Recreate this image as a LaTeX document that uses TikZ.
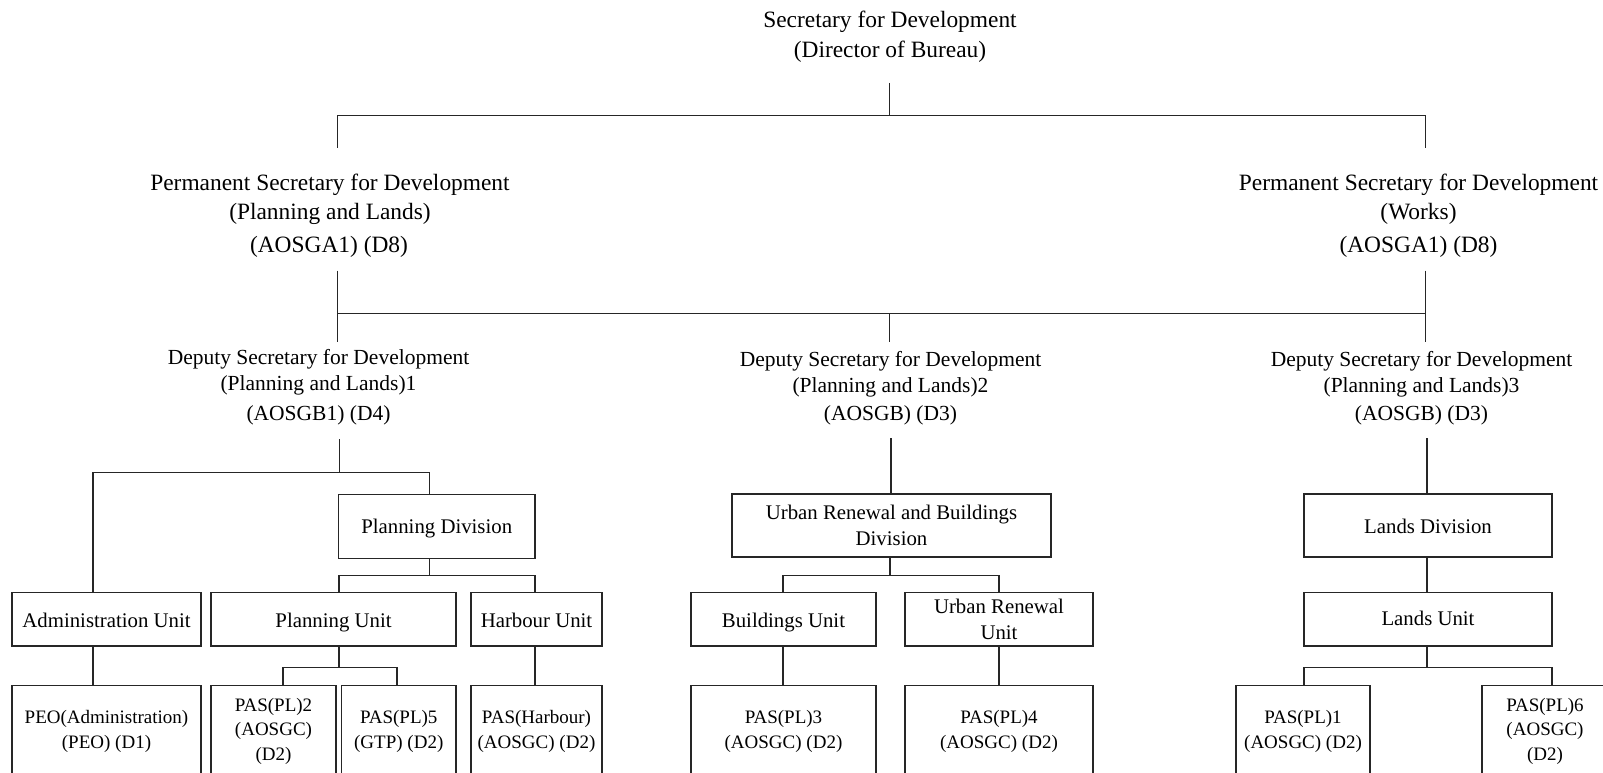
\documentclass[tikz,border=0pt]{standalone}
\usepackage{fontspec}
\setmainfont{Liberation Serif}
\begin{document}
\begin{tikzpicture}[x=1pt,y=-1pt,
  conn/.style={line width=1.2pt, black!85},
  box/.style={draw=black!85, line width=1.2pt, inner sep=0pt, align=center, font=\fontsize{20.8}{25.6}\selectfont},
  one/.style={text height=15.5pt, text depth=0pt},
  lowbox/.style={draw=black!85, line width=1.2pt, inner sep=0pt, align=center, font=\fontsize{19}{24.5}\selectfont},
  ttop/.style={inner sep=0pt, anchor=base, font=\fontsize{23.4}{28}\selectfont},
  tdep/.style={inner sep=0pt, anchor=base, font=\fontsize{21.5}{26}\selectfont}]
\useasboundingbox (0,0) rectangle (1603,773);
\fill[white] (0,0) rectangle (1603,773);
\clip (0,0) rectangle (1603,773);

% ---- top texts
\node[ttop] (sec1) at (890,28) {Secretary for Development};
\node[ttop] (sec2) at (890,57.2) {(Director of Bureau)};

\node[ttop] (psl1) at (330,190.7) {Permanent Secretary for Development};
\node[ttop] (psl2) at (330,219) {(Planning and Lands)};
\node[ttop] (psl3) at (329,252.3) {(AOSGA1) (D8)};

\node[ttop] (psr1) at (1418.5,190.7) {Permanent Secretary for Development};
\node[ttop] (psr2) at (1418.5,219) {(Works)};
\node[ttop] (psr3) at (1418.5,252.3) {(AOSGA1) (D8)};

\node[tdep] (ds11) at (318.5,364) {Deputy Secretary for Development};
\node[tdep] (ds12) at (318.5,390) {(Planning and Lands)1};
\node[tdep] (ds13) at (318.5,420) {(AOSGB1) (D4)};

\node[tdep] (ds21) at (890.5,366) {Deputy Secretary for Development};
\node[tdep] (ds22) at (890.5,392) {(Planning and Lands)2};
\node[tdep] (ds23) at (890.5,420.5) {(AOSGB) (D3)};

\node[tdep] (ds31) at (1421.5,366) {Deputy Secretary for Development};
\node[tdep] (ds32) at (1421.5,392) {(Planning and Lands)3};
\node[tdep] (ds33) at (1421.5,420.5) {(AOSGB) (D3)};

% ---- division boxes
\node[box, one, minimum width=196.5pt, minimum height=64pt] (pd) at (436.75,526.15) {Planning Division};
\node[box, minimum width=319pt, minimum height=63pt] (urb) at (891.5,525.5) {Urban Renewal and Buildings\\Division};
\node[box, one, minimum width=248pt, minimum height=63pt] (ld) at (1428,525.5) {Lands Division};

% ---- unit boxes
\node[box, one, minimum width=189pt, minimum height=53.3pt] (adm) at (106.5,619.35) {Administration Unit};
\node[box, one, minimum width=245pt, minimum height=53.3pt] (pu) at (333.5,619.35) {Planning Unit};
\node[box, one, minimum width=131pt, minimum height=53.3pt] (hu) at (536.5,619.35) {Harbour Unit};
\node[box, one, minimum width=185pt, minimum height=53.3pt] (bu) at (783.5,619.35) {Buildings Unit};
\node[box, minimum width=188pt, minimum height=53.3pt] (uru) at (999,619.35) {Urban Renewal\\Unit};
\node[box, text height=12pt, text depth=0pt, minimum width=248pt, minimum height=53.3pt] (lu) at (1428,619.35) {Lands Unit};

% ---- bottom boxes
\node[lowbox, minimum width=189pt, minimum height=91.3pt] (peo) at (106.5,731.35) {PEO(Administration)\\(PEO) (D1)};
\node[lowbox, minimum width=125pt, minimum height=91.3pt] (pl2) at (273.5,731.35) {PAS(PL)2\\(AOSGC)\\(D2)};
\node[lowbox, minimum width=114.5pt, minimum height=91.3pt] (pl5) at (398.75,731.35) {PAS(PL)5\\(GTP) (D2)};
\node[lowbox, minimum width=131pt, minimum height=91.3pt] (ph) at (536.5,731.35) {PAS(Harbour)\\(AOSGC) (D2)};
\node[lowbox, minimum width=185pt, minimum height=91.3pt] (pl3) at (783.5,731.35) {PAS(PL)3\\(AOSGC) (D2)};
\node[lowbox, minimum width=188pt, minimum height=91.3pt] (pl4) at (999,731.35) {PAS(PL)4\\(AOSGC) (D2)};
\node[lowbox, minimum width=134pt, minimum height=91.3pt] (pl1) at (1303,731.35) {PAS(PL)1\\(AOSGC) (D2)};
\node[lowbox, minimum width=126pt, minimum height=91.3pt] (pl6) at (1545,731.35) {PAS(PL)6\\(AOSGC)\\(D2)};

% ---- connector coordinates
\coordinate (c0) at (889.7,83);
\coordinate (c1) at (889.7,115.7);
\coordinate (cL) at (337.3,147.7);
\coordinate (cR) at (1425.3,147.7);
\coordinate (pL) at (337.3,270.7);
\coordinate (pR) at (1425.3,270.7);
\coordinate (m) at (889.7,313.3);
\coordinate (dL) at (337.3,341.7);
\coordinate (dR) at (1425.3,341.7);
\coordinate (dM) at (889.7,341.7);
\coordinate (s1) at (339.3,439.3);
\coordinate (s1j) at (339.3,472.7);
\coordinate (xa) at (93,0);
\coordinate (xpd) at (429.5,0);
\coordinate (pdj) at (429.5,575.7);
\coordinate (xpu) at (339,0);
\coordinate (xhu) at (535,0);
\coordinate (puj) at (339,667.7);
\coordinate (x2) at (283,0);
\coordinate (x5) at (397,0);
\coordinate (s2) at (891,438);
\coordinate (xur) at (890,0);
\coordinate (urbj) at (890,575.3);
\coordinate (xbu) at (783,0);
\coordinate (xuru) at (999,0);
\coordinate (s3) at (1427,438);
\coordinate (luj) at (1427,667.5);
\coordinate (x1) at (1304,0);
\coordinate (x6) at (1552,0);

% ---- connectors
\draw[conn] (c0) -- (c1);
\draw[conn] (cL) |- (c1) -| (cR);
\draw[conn] (pL) -- (dL);
\draw[conn] (pR) -- (dR);
\draw[conn] (m) -- (dM);
\draw[conn] (pL |- m) -- (pR |- m);

\draw[conn] (s1) -- (s1j);
\draw[conn] (adm.north -| xa) |- (s1j) -| (pd.north -| xpd);
\draw[conn] (pd.south -| xpd) -- (pdj);
\draw[conn] (pu.north -| xpu) |- (pdj) -| (hu.north -| xhu);
\draw[conn] (adm.south -| xa) -- (peo.north -| xa);
\draw[conn] (pu.south -| xpu) -- (puj);
\draw[conn] (pl2.north -| x2) |- (puj) -| (pl5.north -| x5);
\draw[conn] (hu.south -| xhu) -- (ph.north -| xhu);

\draw[conn] (s2) -- (urb.north -| s2);
\draw[conn] (urb.south -| xur) -- (urbj);
\draw[conn] (bu.north -| xbu) |- (urbj) -| (uru.north -| xuru);
\draw[conn] (bu.south -| xbu) -- (pl3.north -| xbu);
\draw[conn] (uru.south -| xuru) -- (pl4.north -| xuru);

\draw[conn] (s3) -- (ld.north -| s3);
\draw[conn] (ld.south -| s3) -- (lu.north -| s3);
\draw[conn] (lu.south -| s3) -- (luj);
\draw[conn] (pl1.north -| x1) |- (luj) -| (pl6.north -| x6);
\end{tikzpicture}
\end{document}
